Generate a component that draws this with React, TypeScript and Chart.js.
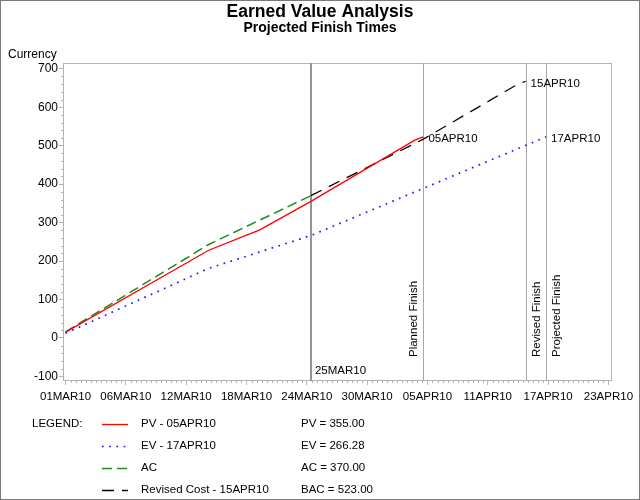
import React, { useEffect, useRef } from "react";
import { Chart, registerables } from "chart.js";

Chart.register(...registerables);

const FONT = "'Liberation Sans', Arial, Helvetica, sans-serif";

// ---- data (x = days after 01MAR2010) ----
const pvDays = [0, 14, 19, 24, 34.2, 35];
const pvValues = [15, 228, 281, 355, 515, 523];

const evDays = [0, 14, 24, 47];
const evValues = [12, 181, 266.28, 523];

const acDays = [0, 14, 24];
const acValues = [16, 243, 370];

const rcDays = [24, 35, 44.3, 45];
const rcValues = [370, 517, 661, 667];

const seriesNames = ["PV - 05APR10", "EV - 17APR10", "AC", "Revised Cost - 15APR10"];
const seriesMetrics = ["PV = 355.00", "EV = 266.28", "AC = 370.00", "BAC = 523.00"];

const markerDays = [24, 35, 45, 47];
const markerLabels = ["", "Planned Finish", "Revised Finish", "Projected Finish"];

const xTickStep = 5.9;
const xTickCount = 10;
const yTicks = [-100, 0, 100, 200, 300, 400, 500, 600, 700];

const titleText = "Earned Value Analysis";
const subtitleText = "Projected Finish Times";
const yAxisTitle = "Currency";
const legendHeader = "LEGEND:";

const MONTHS = ["JAN", "FEB", "MAR", "APR", "MAY", "JUN", "JUL", "AUG", "SEP", "OCT", "NOV", "DEC"];
function fmtDate(day: number): string {
  const d = new Date(2010, 2, 1 + Math.floor(day + 1e-6));
  const dd = String(d.getDate()).padStart(2, "0");
  const yy = String(d.getFullYear() % 100).padStart(2, "0");
  return dd + MONTHS[d.getMonth()] + yy;
}

const toPts = (xs: number[], ys: number[]) => xs.map((x, i) => ({ x, y: ys[i] }));

const overlay = {
  id: "overlay",
  beforeDatasetsDraw(chart: any) {
    const { ctx, chartArea: a, scales } = chart;
    const x = scales.x;
    const y = scales.y;
    ctx.save();
    // plot frame
    ctx.strokeStyle = "#b4b4b4";
    ctx.lineWidth = 1;
    ctx.setLineDash([]);
    ctx.strokeRect(a.left + 0.5, a.top + 0.5, a.right - a.left - 1, a.bottom - a.top - 1);
    // minor ticks y
    for (let v = yTicks[0]; v <= yTicks[yTicks.length - 1]; v += 20) {
      if (Math.abs(v % 100) < 1e-6) continue;
      const py = Math.round(y.getPixelForValue(v)) + 0.5;
      ctx.beginPath();
      ctx.moveTo(a.left - 2, py);
      ctx.lineTo(a.left, py);
      ctx.stroke();
    }
    // minor ticks x
    for (let k = 0; k < xTickCount - 1; k++) {
      for (let j = 1; j < 12; j++) {
        const v = k * xTickStep + (j * xTickStep) / 12;
        const px = Math.round(x.getPixelForValue(v)) + 0.5;
        ctx.beginPath();
        ctx.moveTo(px, a.bottom);
        ctx.lineTo(px, a.bottom + 2);
        ctx.stroke();
      }
    }
    // vertical reference lines
    markerDays.forEach((d, i) => {
      const px = Math.round(x.getPixelForValue(d));
      ctx.beginPath();
      if (i === 0) {
        ctx.strokeStyle = "#949494";
        ctx.lineWidth = 2;
        ctx.moveTo(px, a.top);
        ctx.lineTo(px, a.bottom);
      } else {
        ctx.strokeStyle = "#a8a8a8";
        ctx.lineWidth = 1;
        ctx.moveTo(px + 0.5, a.top);
        ctx.lineTo(px + 0.5, a.bottom);
      }
      ctx.stroke();
    });
    ctx.restore();
  },
  afterDraw(chart: any) {
    const { ctx, chartArea: a, scales } = chart;
    const x = scales.x;
    const y = scales.y;
    ctx.save();
    ctx.fillStyle = "#000";
    // outer frame
    ctx.strokeStyle = "#7a7a7a";
    ctx.lineWidth = 1;
    ctx.strokeRect(0.5, 0.5, chart.width - 1, chart.height - 1);

    ctx.textBaseline = "middle";
    ctx.textAlign = "center";
    ctx.font = `bold 17.5px ${FONT}`;
    ctx.fillText(titleText, 320, 12.5);
    ctx.font = `bold 14px ${FONT}`;
    ctx.fillText(subtitleText, 320, 28.5);

    ctx.textAlign = "left";
    ctx.font = `12px ${FONT}`;
    ctx.fillText(yAxisTitle, 8, 55);

    ctx.font = `11.5px ${FONT}`;
    // end-of-series labels at finish lines
    const ds = chart.data.datasets;
    const ends = [
      { ds: 0, m: 1 },
      { ds: 3, m: 2 },
      { ds: 1, m: 3 },
    ];
    ends.forEach((e) => {
      const data = ds[e.ds].data;
      const last = data[data.length - 1];
      const px = x.getPixelForValue(markerDays[e.m]) + 5;
      const py = y.getPixelForValue(last.y) + 2;
      ctx.fillText(fmtDate(markerDays[e.m]), px, py);
    });
    // status date label
    ctx.fillText(fmtDate(markerDays[0]), x.getPixelForValue(markerDays[0]) + 4, a.bottom - 10);

    // rotated marker labels
    markerDays.forEach((d, i) => {
      if (!markerLabels[i]) return;
      const px = x.getPixelForValue(d) + (i === 1 ? -10 : 11);
      ctx.save();
      ctx.translate(px, a.bottom - 24);
      ctx.rotate(-Math.PI / 2);
      ctx.textAlign = "left";
      ctx.textBaseline = "middle";
      ctx.fillText(markerLabels[i], 0, 0);
      ctx.restore();
    });

    // legend
    ctx.fillText(legendHeader, 32, 423.5);
    ds.forEach((d: any, i: number) => {
      const ry = 423.5 + i * 22;
      ctx.save();
      ctx.strokeStyle = d.borderColor;
      ctx.lineWidth = d.borderWidth;
      ctx.setLineDash(d.borderDash || []);
      ctx.beginPath();
      ctx.moveTo(102, Math.round(ry) + 0.5);
      ctx.lineTo(128, Math.round(ry) + 0.5);
      ctx.stroke();
      ctx.restore();
      ctx.fillText(seriesNames[i], 141, ry);
      ctx.fillText(seriesMetrics[i], 301, ry);
    });
    ctx.restore();
  },
};

export default function App() {
  const ref = useRef<HTMLCanvasElement | null>(null);
  useEffect(() => {
    if (!ref.current) return;
    const chart = new Chart(ref.current, {
      type: "line",
      data: {
        datasets: [
          {
            label: seriesNames[0],
            data: toPts(pvDays, pvValues),
            borderColor: "#ff0000",
            borderWidth: 1.3,
            borderDash: [],
            pointRadius: 0,
            tension: 0,
          },
          {
            label: seriesNames[1],
            data: toPts(evDays, evValues),
            borderColor: "#1a1aff",
            borderWidth: 1.7,
            borderDash: [1.7, 5.5],
            pointRadius: 0,
            tension: 0,
          },
          {
            label: seriesNames[2],
            data: toPts(acDays, acValues),
            borderColor: "#1f8a1f",
            borderWidth: 1.5,
            borderDash: [10, 5],
            pointRadius: 0,
            tension: 0,
          },
          {
            label: seriesNames[3],
            data: toPts(rcDays, rcValues),
            borderColor: "#000000",
            borderWidth: 1.3,
            borderDash: [12, 8],
            pointRadius: 0,
            tension: 0,
          },
        ],
      },
      options: {
        animation: false,
        responsive: false,
        events: [],
        layout: { padding: { top: 63, left: 0, right: 28, bottom: 0 } },
        plugins: { legend: { display: false }, tooltip: { enabled: false }, title: { display: false } },
        scales: {
          x: {
            type: "linear",
            min: -0.25,
            max: 53.45,
            border: { display: false },
            grid: { drawOnChartArea: false, drawTicks: true, tickLength: 4, color: "#b4b4b4" },
            ticks: {
              autoSkip: false,
              maxRotation: 0,
              padding: 5,
              color: "#000",
              font: { family: FONT, size: 11.5 },
              callback: (v: any) => fmtDate(Number(v)),
            },
            afterBuildTicks: (s: any) => {
              s.ticks = Array.from({ length: xTickCount }, (_, k) => ({ value: k * xTickStep }));
            },
            afterFit: (s: any) => {
              s.height = 119;
            },
          },
          y: {
            type: "linear",
            min: -112,
            max: 715,
            border: { display: false },
            grid: { drawOnChartArea: false, drawTicks: true, tickLength: 4, color: "#b4b4b4" },
            ticks: {
              padding: 1,
              color: "#000",
              font: { family: FONT, size: 12 },
            },
            afterBuildTicks: (s: any) => {
              s.ticks = yTicks.map((v) => ({ value: v }));
            },
            afterFit: (s: any) => {
              s.width = 63;
            },
          },
        },
      },
      plugins: [overlay],
    });
    return () => chart.destroy();
  }, []);
  return (
    <div style={{ position: "absolute", left: 0, top: 0, width: 640, height: 500, background: "#fff" }}>
      <canvas ref={ref} width={640} height={500} style={{ display: "block", width: 640, height: 500 }} />
    </div>
  );
}
